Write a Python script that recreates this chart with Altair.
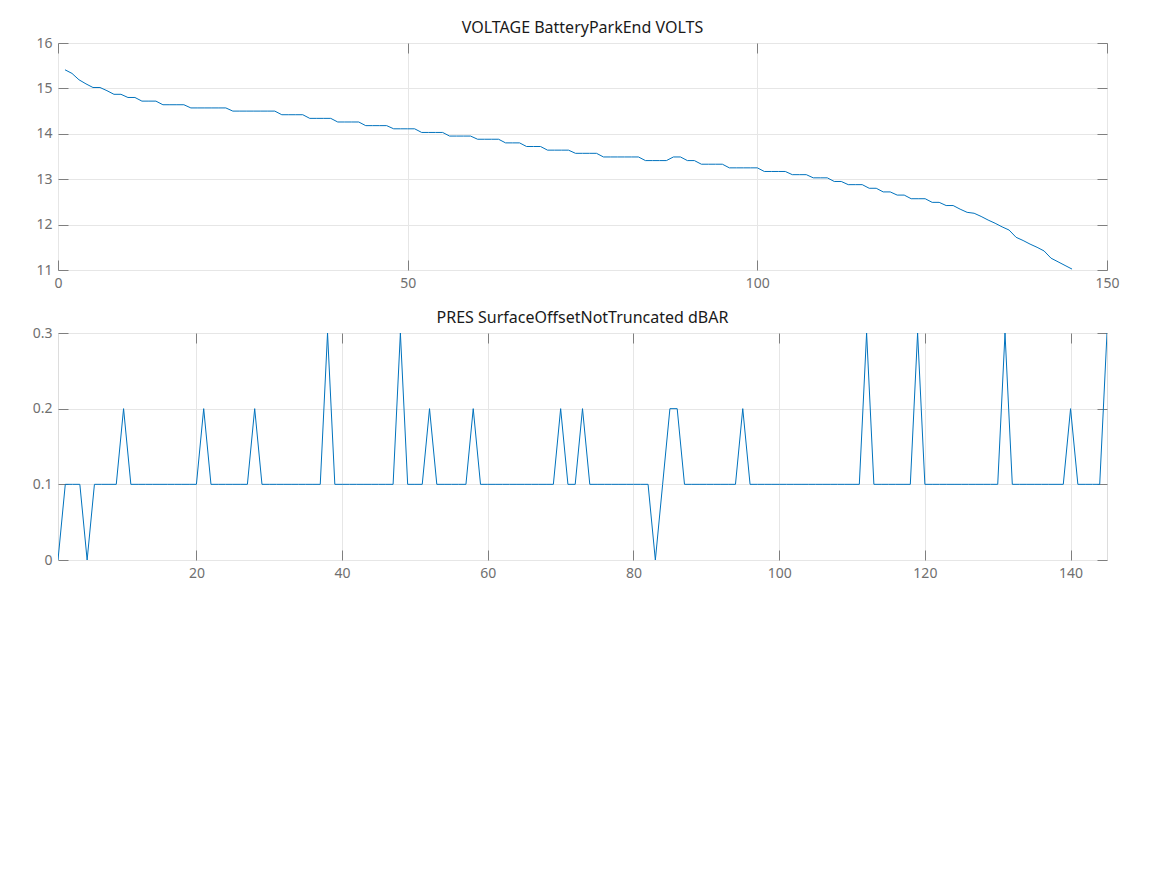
import altair as alt
import pandas as pd

# ---- data -------------------------------------------------------------
volt_cycle = list(range(1, 146))
volt_values = [
    15.41, 15.33, 15.19, 15.10, 15.02, 15.02, 14.95, 14.87, 14.87, 14.80,
    14.80, 14.72, 14.72, 14.72, 14.64, 14.64, 14.64, 14.64, 14.57, 14.57,
    14.57, 14.57, 14.57, 14.57, 14.50, 14.50, 14.50, 14.50, 14.50, 14.50,
    14.50, 14.42, 14.42, 14.42, 14.42, 14.34, 14.34, 14.34, 14.34, 14.26,
    14.26, 14.26, 14.26, 14.18, 14.18, 14.18, 14.18, 14.11, 14.11, 14.11,
    14.11, 14.03, 14.03, 14.03, 14.03, 13.95, 13.95, 13.95, 13.95, 13.88,
    13.88, 13.88, 13.88, 13.80, 13.80, 13.80, 13.72, 13.72, 13.72, 13.64,
    13.64, 13.64, 13.64, 13.57, 13.57, 13.57, 13.57, 13.49, 13.49, 13.49,
    13.49, 13.49, 13.49, 13.41, 13.41, 13.41, 13.41, 13.49, 13.49, 13.41,
    13.41, 13.33, 13.33, 13.33, 13.33, 13.25, 13.25, 13.25, 13.25, 13.25,
    13.17, 13.17, 13.17, 13.17, 13.10, 13.10, 13.10, 13.03, 13.03, 13.03,
    12.95, 12.95, 12.88, 12.88, 12.88, 12.80, 12.80, 12.72, 12.72, 12.65,
    12.65, 12.57, 12.57, 12.57, 12.49, 12.49, 12.42, 12.42, 12.34, 12.27,
    12.25, 12.18, 12.10, 12.03, 11.95, 11.88, 11.72, 11.65, 11.57, 11.50,
    11.42, 11.26, 11.18, 11.10, 11.02,
]

pres_cycle = list(range(1, 146))
pres_values = [
    0.0, 0.1, 0.1, 0.1, 0.0, 0.1, 0.1, 0.1, 0.1, 0.2,
    0.1, 0.1, 0.1, 0.1, 0.1, 0.1, 0.1, 0.1, 0.1, 0.1,
    0.2, 0.1, 0.1, 0.1, 0.1, 0.1, 0.1, 0.2, 0.1, 0.1,
    0.1, 0.1, 0.1, 0.1, 0.1, 0.1, 0.1, 0.3, 0.1, 0.1,
    0.1, 0.1, 0.1, 0.1, 0.1, 0.1, 0.1, 0.3, 0.1, 0.1,
    0.1, 0.2, 0.1, 0.1, 0.1, 0.1, 0.1, 0.2, 0.1, 0.1,
    0.1, 0.1, 0.1, 0.1, 0.1, 0.1, 0.1, 0.1, 0.1, 0.2,
    0.1, 0.1, 0.2, 0.1, 0.1, 0.1, 0.1, 0.1, 0.1, 0.1,
    0.1, 0.1, 0.0, 0.1, 0.2, 0.2, 0.1, 0.1, 0.1, 0.1,
    0.1, 0.1, 0.1, 0.1, 0.2, 0.1, 0.1, 0.1, 0.1, 0.1,
    0.1, 0.1, 0.1, 0.1, 0.1, 0.1, 0.1, 0.1, 0.1, 0.1,
    0.1, 0.3, 0.1, 0.1, 0.1, 0.1, 0.1, 0.1, 0.3, 0.1,
    0.1, 0.1, 0.1, 0.1, 0.1, 0.1, 0.1, 0.1, 0.1, 0.1,
    0.3, 0.1, 0.1, 0.1, 0.1, 0.1, 0.1, 0.1, 0.1, 0.2,
    0.1, 0.1, 0.1, 0.1, 0.3,
]

volt_title = "VOLTAGE BatteryParkEnd VOLTS"
volt_xdomain = [0, 150]
volt_xticks = [0, 50, 100, 150]
volt_ydomain = [11, 16]
volt_yticks = [11, 12, 13, 14, 15, 16]

pres_title = "PRES SurfaceOffsetNotTruncated dBAR"
pres_xdomain = [1, 145]
pres_xticks = [20, 40, 60, 80, 100, 120, 140]
pres_ydomain = [0, 0.3]
pres_yticks = [0, 0.1, 0.2, 0.3]

# ---- style ------------------------------------------------------------
FONT = "Noto Sans"
LINE = "#0072BD"
AXIS_GRAY = "#7f7f7f"
LABEL_GRAY = "#6f6f6f"
GRID = "#e6e6e6"
W, H = 1049, 227


def panel(df, title, xdom, xticks, ydom, yticks):
    base = alt.Chart(df)
    xs = alt.Scale(domain=xdom, nice=False, zero=False)
    ys = alt.Scale(domain=ydom, nice=False, zero=False)

    main = base.mark_line(color=LINE, strokeWidth=1, clip=True).encode(
        x=alt.X("x:Q", scale=xs, axis=alt.Axis(
            values=xticks, ticks=False, domain=False, grid=True, gridColor=GRID,
            labelPadding=6, labelFont=FONT, labelFontSize=14, labelColor=LABEL_GRAY,
            labelFlush=False, title=None)),
        y=alt.Y("y:Q", scale=ys, axis=alt.Axis(
            values=yticks, ticks=False, domain=False, grid=True, gridColor=GRID,
            labelPadding=6, labelFont=FONT, labelFontSize=14, labelColor=LABEL_GRAY,
            labelFlush=False, format="~f", title=None)),
    )
    ticks_in = base.mark_line(opacity=0).encode(
        x=alt.X("x:Q", scale=xs, axis=alt.Axis(
            values=xticks, orient="bottom", offset=-10, tickSize=10, tickColor=AXIS_GRAY,
            labels=False, domain=False, grid=False, title=None)),
        y=alt.Y("y:Q", scale=ys, axis=alt.Axis(
            values=yticks, orient="left", offset=-10, tickSize=10, tickColor=AXIS_GRAY,
            labels=False, domain=False, grid=False, title=None)),
    )
    ticks_out = base.mark_line(opacity=0).encode(
        x=alt.X("x:Q", scale=xs, axis=alt.Axis(
            values=xticks, orient="top", offset=-10, tickSize=10, tickColor=AXIS_GRAY,
            labels=False, domain=False, grid=False, title=None)),
        y=alt.Y("y:Q", scale=ys, axis=alt.Axis(
            values=yticks, orient="right", offset=-10, tickSize=10, tickColor=AXIS_GRAY,
            labels=False, domain=False, grid=False, title=None)),
    )
    return alt.layer(main, ticks_in, ticks_out).resolve_axis(
        x="independent", y="independent"
    ).properties(
        width=W, height=H,
        title=alt.TitleParams(title, font=FONT, fontSize=16, fontWeight="normal",
                              color="#1a1a1a", offset=0, anchor="middle"),
    )


volt_df = pd.DataFrame({"x": volt_cycle, "y": volt_values})
pres_df = pd.DataFrame({"x": pres_cycle, "y": pres_values})

top = panel(volt_df, volt_title, volt_xdomain, volt_xticks, volt_ydomain, volt_yticks)
bottom = panel(pres_df, pres_title, pres_xdomain, pres_xticks, pres_ydomain, pres_yticks)

chart = alt.vconcat(top, bottom, spacing=18).properties(
    padding={"left": 23, "top": 11, "right": 5, "bottom": 5}
).configure_view(
    stroke=AXIS_GRAY, strokeWidth=1
).configure(background="white")

chart.save("out.html", embed_options={"renderer": "svg", "actions": False})
